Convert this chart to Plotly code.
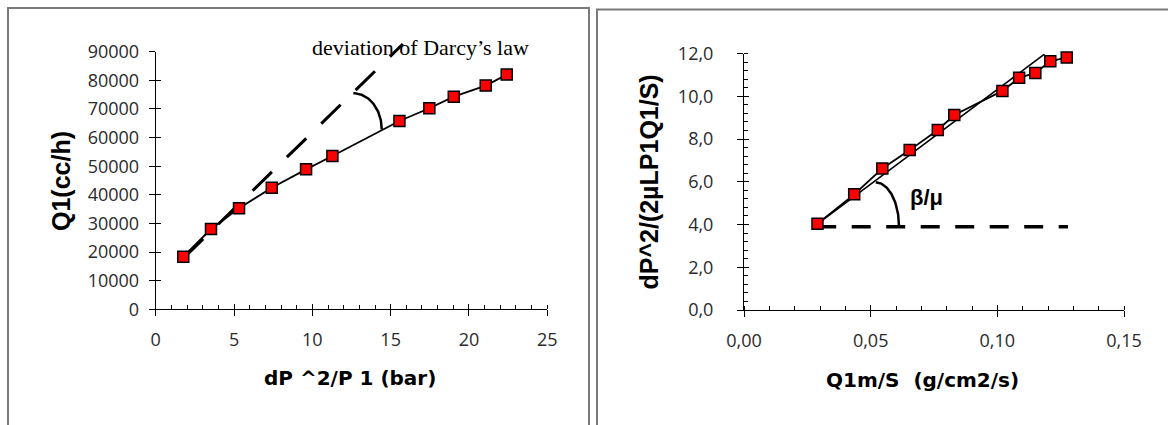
import numpy as np
import plotly.graph_objects as go

W, H = 1168, 425

# ---- left chart: flow rate vs. pressure term ----
dp2_p1 = [1.76, 3.53, 5.32, 7.41, 9.60, 11.28, 15.56, 17.47, 19.03, 21.07, 22.41]
q1_cch = [18400, 28050, 35300, 42500, 48900, 53550, 65800, 70250, 74300, 78150, 82000]
darcy_x = [1.8, 15.78]          # Darcy (linear) extrapolation
darcy_y = [18000, 92700]
left_xticks = [0, 5, 10, 15, 20, 25]
left_yticks = [0, 10000, 20000, 30000, 40000, 50000, 60000, 70000, 80000, 90000]

# ---- right chart: Forchheimer plot ----
q1m_s = [0.0290, 0.0435, 0.0546, 0.0654, 0.0765, 0.0830, 0.1020, 0.1086, 0.1150, 0.1209, 0.1274]
forch = [4.04, 5.41, 6.62, 7.48, 8.42, 9.12, 10.25, 10.86, 11.09, 11.64, 11.81]
fit_x = [0.0289, 0.1186]
fit_y = [4.02, 11.97]
base_x = [0.0289, 0.1279]
base_y = [3.89, 3.89]
right_xticks = [0.00, 0.05, 0.10, 0.15]
right_xtext = ["0,00", "0,05", "0,10", "0,15"]
right_yticks = [0, 2, 4, 6, 8, 10, 12]
right_ytext = ["0,0", "2,0", "4,0", "6,0", "8,0", "10,0", "12,0"]

# ---- plot-area placement (pixels) ----
L_x0, L_x1, L_ybot, L_ytop = 155.7, 547.3, 309.3, 51.7
R_x0, R_x1, R_ybot, R_ytop = 744.0, 1124.0, 310.0, 53.5

def px(x):
    return x / W

def py(y):
    return 1 - y / H

L_dom_x = [px(L_x0), px(L_x1)]
L_dom_y = [py(L_ybot), py(L_ytop)]
R_dom_x = [px(R_x0), px(R_x1)]
R_dom_y = [py(R_ybot), py(R_ytop)]
# taller drawing layer with the same scale as the left axes
L_layer_y = [L_dom_y[0], 1.0]
L_layer_top = left_yticks[-1] * (L_layer_y[1] - L_layer_y[0]) / (L_dom_y[1] - L_dom_y[0])

tick_font = dict(family="Open Sans", size=18, color="#2a2a2a")
MARK = dict(symbol="square", size=11, color="#ff0000", line=dict(color="black", width=1.5))

fig = go.Figure()

# empty traces so every axis pair is built
for xa, ya in [("x", "y"), ("x2", "y2"), ("x3", "y3"), ("x4", "y4")]:
    fig.add_trace(go.Scatter(x=[], y=[], xaxis=xa, yaxis=ya, showlegend=False))

# left chart marks on the tall layer
fig.add_trace(go.Scatter(x=darcy_x, y=darcy_y, mode="lines", xaxis="x5", yaxis="y5",
                         line=dict(color="black", width=3, dash="27px,21px"),
                         showlegend=False, hoverinfo="skip"))
th = np.linspace(0, np.pi / 2, 60)
fig.add_trace(go.Scatter(x=12.62 + 1.81 * np.cos(th), y=62900 + 12580 * np.sin(th),
                         mode="lines", xaxis="x5", yaxis="y5",
                         line=dict(color="black", width=2.5), showlegend=False, hoverinfo="skip"))
fig.add_trace(go.Scatter(x=dp2_p1, y=q1_cch, mode="lines+markers", xaxis="x5", yaxis="y5",
                         line=dict(color="black", width=1.8), marker=MARK,
                         cliponaxis=False, showlegend=False))

# right chart marks
fig.add_trace(go.Scatter(x=base_x, y=base_y, mode="lines", xaxis="x2", yaxis="y2",
                         line=dict(color="black", width=3.5, dash="19px,15.5px"),
                         showlegend=False, hoverinfo="skip"))
fig.add_trace(go.Scatter(x=0.0520 + 0.0092 * np.cos(th), y=3.89 + 2.08 * np.sin(th),
                         mode="lines", xaxis="x2", yaxis="y2",
                         line=dict(color="black", width=2.5), showlegend=False, hoverinfo="skip"))
fig.add_trace(go.Scatter(x=fit_x, y=fit_y, mode="lines", xaxis="x2", yaxis="y2",
                         line=dict(color="black", width=1.6), showlegend=False, hoverinfo="skip"))
fig.add_trace(go.Scatter(x=q1m_s, y=forch, mode="lines+markers", xaxis="x2", yaxis="y2",
                         line=dict(color="black", width=1.8), marker=MARK,
                         cliponaxis=False, showlegend=False))

base_ax = dict(showgrid=False, zeroline=False, linecolor="black", linewidth=1,
               tickcolor="black", tickwidth=1, tickfont=tick_font, fixedrange=True,
               automargin=False)

fig.update_layout(
    template="none",
    width=W, height=H, autosize=False,
    margin=dict(l=0, r=0, t=0, b=0, pad=0, autoexpand=False),
    paper_bgcolor="white", plot_bgcolor="rgba(0,0,0,0)", showlegend=False,
    xaxis=dict(base_ax, domain=L_dom_x, anchor="y", range=[0, 25], showline=True,
               tickmode="array", tickvals=left_xticks, ticks="outside", ticklen=6,
               ticklabelstandoff=8,
               minor=dict(ticks="inside", dtick=1, ticklen=4, tickcolor="black")),
    yaxis=dict(base_ax, domain=L_dom_y, anchor="x", range=[0, left_yticks[-1]], showline=True,
               tickmode="array", tickvals=left_yticks, ticktext=[str(v) for v in left_yticks],
               ticks="outside", ticklen=6, ticklabelstandoff=6),
    xaxis3=dict(base_ax, overlaying="x", anchor="y3", range=[0, 25], showline=False,
                tickmode="array", tickvals=left_xticks, ticks="inside", ticklen=5,
                showticklabels=False),
    yaxis3=dict(base_ax, overlaying="y", anchor="x3", range=[0, left_yticks[-1]], showline=False,
                tickmode="array", tickvals=left_yticks, ticks="inside", ticklen=5,
                showticklabels=False),
    xaxis5=dict(domain=L_dom_x, anchor="y5", range=[0, 25], visible=False, fixedrange=True,
                automargin=False),
    yaxis5=dict(domain=L_layer_y, anchor="x5", range=[0, L_layer_top], visible=False,
                fixedrange=True, automargin=False),
    xaxis2=dict(base_ax, domain=R_dom_x, anchor="y2", range=[0, 0.15], showline=True,
                tickmode="array", tickvals=right_xticks, ticktext=right_xtext,
                ticks="outside", ticklen=6, ticklabelstandoff=8,
                minor=dict(ticks="inside", dtick=0.01, ticklen=4, tickcolor="black")),
    yaxis2=dict(base_ax, domain=R_dom_y, anchor="x2", range=[0, 12], showline=True,
                tickmode="array", tickvals=right_yticks, ticktext=right_ytext,
                ticks="outside", ticklen=6, ticklabelstandoff=20,
                minor=dict(ticks="inside", dtick=0.4, ticklen=4, tickcolor="black")),
    xaxis4=dict(base_ax, overlaying="x2", anchor="y4", range=[0, 0.15], showline=False,
                tickmode="array", tickvals=right_xticks, ticks="inside", ticklen=5,
                showticklabels=False),
    yaxis4=dict(base_ax, overlaying="y2", anchor="x4", range=[0, 12], showline=False,
                tickmode="array", tickvals=right_yticks, ticks="inside", ticklen=5,
                showticklabels=False),
)

# panel frames
frame = dict(color="#7a7a7a", width=2)
fig.add_shape(type="path", xref="paper", yref="paper", line=frame,
              path=f"M {px(8)},{py(440)} L {px(8)},{py(8)} L {px(589)},{py(8)} L {px(589)},{py(440)}")
fig.add_shape(type="path", xref="paper", yref="paper", line=frame,
              path=f"M {px(597)},{py(440)} L {px(597)},{py(9.5)} L {px(1180)},{py(9.5)}")

# titles and labels
title_font = dict(family="DejaVu Sans", size=20, color="black", weight="bold")
ytitle_font = dict(family="Liberation Sans", size=25, color="black", weight="bold")
ann = [
    dict(text="dP ^2/P 1 (bar)", x=px(349.5), y=py(378), font=title_font),
    dict(text="Q1m/S\u00a0\u00a0(g/cm2/s)", x=px(922), y=py(380), font=title_font),
    dict(text="Q1(cc/h)", x=px(61), y=py(181), textangle=-90, font=ytitle_font),
    dict(text="dP^2/(2µLP1Q1/S)", x=px(648), y=py(182.5), textangle=-90, font=ytitle_font),
    dict(text="deviation of Darcy’s law", x=px(310), y=py(47), xanchor="left",
         font=dict(family="Liberation Serif", size=22, color="black")),
    dict(text="β/μ", x=px(908), y=py(197), xanchor="left",
         font=dict(family="Liberation Sans", size=22, color="black", weight="bold")),
]
for a in ann:
    base = dict(xref="paper", yref="paper", showarrow=False, xanchor="center", yanchor="middle")
    base.update(a)
    fig.add_annotation(**base)

fig.write_html(
    "out.html",
    post_script="document.body.style.margin='0';document.body.style.padding='0';"
                "document.body.style.overflow='hidden';",
)
